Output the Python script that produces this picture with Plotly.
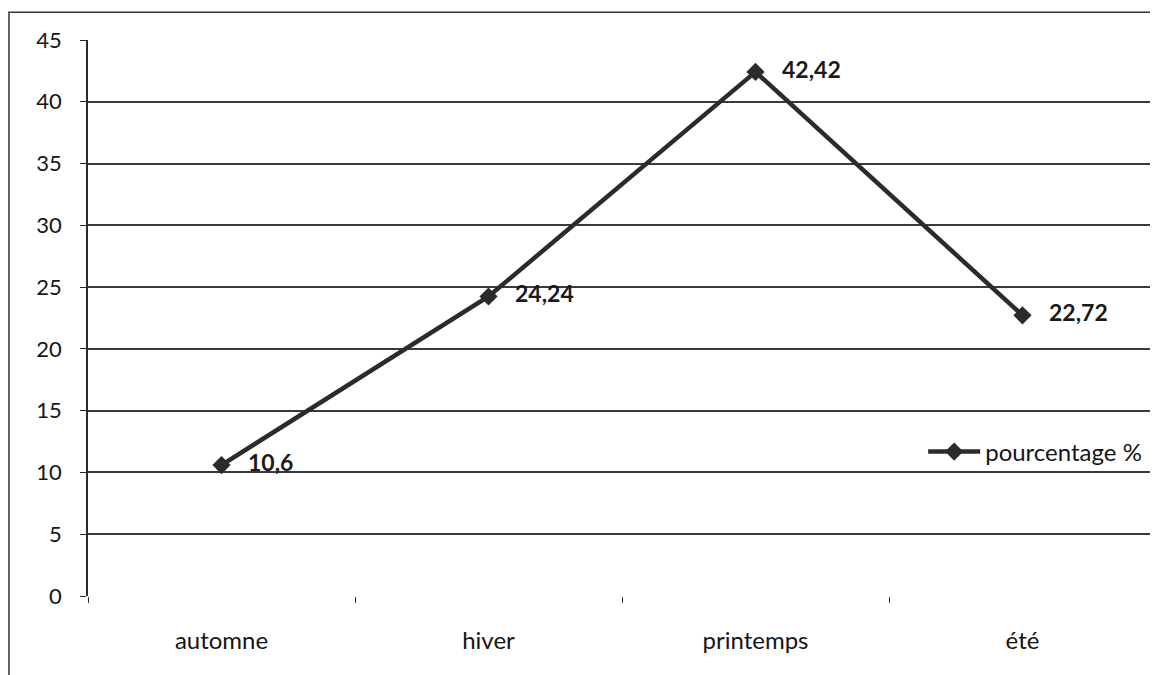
import plotly.graph_objects as go

categories = ["automne", "hiver", "printemps", "été"]
values = [10.6, 24.24, 42.42, 22.72]
series_name = "pourcentage %"
y_ticks = [0, 5, 10, 15, 20, 25, 30, 35, 40, 45]

ink = "#2b2b2b"
font_family = "Lato, 'Open Sans', sans-serif"

fig = go.Figure()
fig.add_trace(go.Scatter(
    x=categories, y=values, name=series_name,
    mode="lines+markers+text",
    line=dict(color=ink, width=4.5),
    marker=dict(symbol="diamond", size=14, color=ink),
    texttemplate="   %{y}", textposition="middle right",
    textfont=dict(family=font_family, size=23, color="#1a1a1a", weight="bold"),
    cliponaxis=False,
))

fig.update_layout(
    width=1150, height=667,
    margin=dict(l=80, r=2, t=32, b=79),
    paper_bgcolor="white", plot_bgcolor="white",
    separators=", ",
    font=dict(family=font_family, size=23, color="#151515"),
    showlegend=True,
    legend=dict(x=0.782, y=0.259, xanchor="left", yanchor="middle",
                bgcolor="rgba(0,0,0,0)", font=dict(size=24),
                itemwidth=52, tracegroupgap=0),
    shapes=[dict(type="rect", xref="paper", yref="paper",
                 x0=-0.074, x1=1.02, y0=-0.2, y1=1.050,
                 line=dict(color="#333333", width=1.5))],
)
fig.update_xaxes(
    type="category", range=[-0.5, 3.5],
    showgrid=False, showline=False,
    ticks="outside", tickson="boundaries", ticklen=6, tickcolor=ink,
    tickfont=dict(size=24), ticklabelstandoff=28,
)
fig.update_yaxes(
    range=[0, 45], tickvals=y_ticks,
    showgrid=True, gridcolor="#3a3a3a", gridwidth=1.8,
    showline=True, linecolor=ink, linewidth=1.5,
    ticks="outside", ticklen=6, tickcolor=ink,
    tickfont=dict(size=22), zeroline=False, ticklabelstandoff=14,
)
fig.write_html("out.html")
